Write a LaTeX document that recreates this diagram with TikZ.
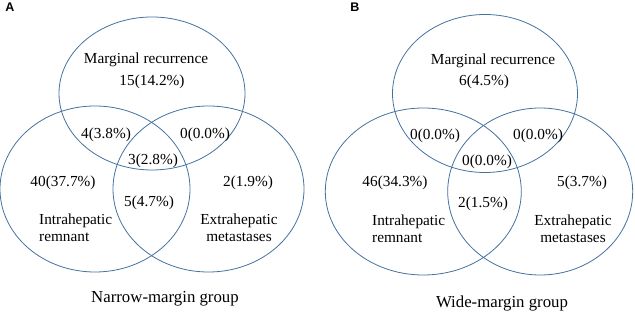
\documentclass[tikz,border=0pt]{standalone}
\usepackage{fontspec}
\setmainfont{Liberation Serif}
\newfontfamily\panelfont{Liberation Sans}
\definecolor{vennblue}{RGB}{68,114,160}
\tikzset{
  venn/.style={draw=vennblue, line width=0.8pt},
  lbl/.style={font=\fontsize{15.3}{17}\selectfont, inner sep=0pt},
  grp/.style={font=\fontsize{16.8}{19}\selectfont, inner sep=0pt},
  panel/.style={font=\panelfont\bfseries\fontsize{12.5}{14}\selectfont, inner sep=0pt}
}
\begin{document}
\begin{tikzpicture}[x=1pt, y=-1pt]
    \useasboundingbox (0,0) rectangle (635,312);
    % panel A: narrow margin
    \node[panel] (pA) at (10,7) {A};
    \draw[venn] (152,93.5) ellipse (93 and 76.5);
    \draw[venn] (95,189) ellipse (95 and 83);
    \draw[venn] (208.5,189) ellipse (95.5 and 83);
    \node[lbl] (aMR)  at (146,60)  {Marginal recurrence};
    \node[lbl] (aM)   at (152,82)  {15(14.2\%)};
    \node[lbl] (aMI)  at (106,135) {4(3.8\%)};
    \node[lbl] (aME)  at (205,135) {0(0.0\%)};
    \node[lbl] (aMIE) at (153,161) {3(2.8\%)};
    \node[lbl] (aI)   at (63,183)  {40(37.7\%)};
    \node[lbl] (aE)   at (248,183) {2(1.9\%)};
    \node[lbl] (aIE)  at (149,203) {5(4.7\%)};
    \node[lbl, align=left, anchor=west] (aIR) at (39,227.5) {Intrahepatic\\remnant};
    \node[lbl, align=center] (aEM) at (239,227.5) {Extrahepatic\\metastases};
    \node[grp] (aG) at (165,299) {Narrow-margin group};
    % panel B: wide margin
    \node[panel] (pB) at (355,7) {B};
    \draw[venn] (485,93.5) ellipse (92.5 and 79);
    \draw[venn] (423.3,191.5) ellipse (98 and 83.5);
    \draw[venn] (540.2,191.5) ellipse (92.5 and 83.5);
    \node[lbl] (bMR)  at (493,61)  {Marginal recurrence};
    \node[lbl] (bM)   at (484,82)  {6(4.5\%)};
    \node[lbl] (bMI)  at (435,136) {0(0.0\%)};
    \node[lbl] (bME)  at (538,136) {0(0.0\%)};
    \node[lbl] (bMIE) at (487,162) {0(0.0\%)};
    \node[lbl] (bI)   at (395,183) {46(34.3\%)};
    \node[lbl] (bE)   at (582,183) {5(3.7\%)};
    \node[lbl] (bIE)  at (483,204) {2(1.5\%)};
    \node[lbl, align=left, anchor=west] (bIR) at (372,228.5) {Intrahepatic\\remnant};
    \node[lbl, align=center] (bEM) at (573,228.5) {Extrahepatic\\metastases};
    \node[grp] (bG) at (502,303) {Wide-margin group};
\end{tikzpicture}
\end{document}
